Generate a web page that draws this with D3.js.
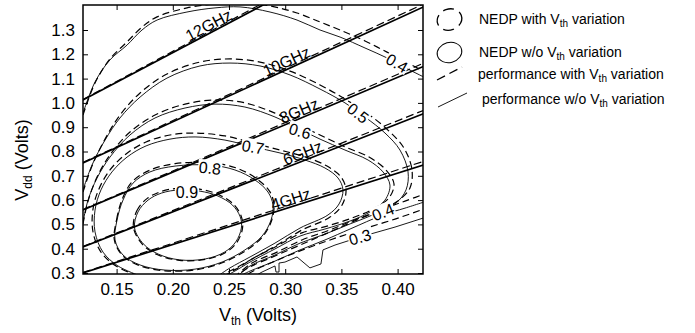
<!DOCTYPE html>
<html><head><meta charset="utf-8">
<script src="https://cdn.jsdelivr.net/npm/d3@7"></script>
<style>body{margin:0;background:#fff;}svg{display:block;}text{font-family:"Liberation Sans",Arial,Helvetica,sans-serif;fill:#000;}</style>
</head><body><svg id="c" width="695" height="333"></svg>
<script>
// ---------- data ----------
const xTicks=[0.15,0.20,0.25,0.30,0.35,0.40];
const yTicks=[0.3,0.4,0.5,0.6,0.7,0.8,0.9,1.0,1.1,1.2,1.3];

const perfNames=["12GHz","10GHz","8GHz","6GHz","4GHz"];
const perfLabelVth=[0.235,0.304,0.315,0.318,0.307];
const perfSolid=[[[0.12,1.012],[0.30,1.451]],[[0.12,0.753],[0.43,1.410]],[[0.12,0.559],[0.43,1.164]],[[0.12,0.407],[0.43,0.968]],[[0.12,0.300],[0.43,0.755]]];
const perfDashed=[[[0.12,1.014],[0.30,1.460]],[[0.12,0.755],[0.43,1.422]],[[0.12,0.561],[0.43,1.177]],[[0.12,0.409],[0.43,0.982]],[[0.12,0.302],[0.43,0.770]]];

// NEDP contours [Vth, Vdd]
const nedp09=[[0.166,0.485],[0.169,0.551],[0.178,0.600],[0.190,0.629],[0.206,0.642],[0.224,0.637],[0.240,0.617],[0.253,0.580],[0.260,0.531],[0.261,0.485],[0.256,0.428],[0.246,0.386],[0.229,0.358],[0.206,0.354],[0.187,0.378],[0.174,0.419]];
const nedp09d=[[0.165,0.487],[0.168,0.556],[0.177,0.606],[0.190,0.636],[0.206,0.649],[0.225,0.644],[0.241,0.622],[0.254,0.583],[0.261,0.532],[0.262,0.484],[0.257,0.426],[0.247,0.384],[0.229,0.356],[0.206,0.352],[0.186,0.376],[0.173,0.418]];
const nedp08=[[0.1486,0.436],[0.1504,0.518],[0.1557,0.600],[0.1646,0.670],[0.1797,0.716],[0.2020,0.740],[0.2331,0.744],[0.2553,0.724],[0.2731,0.683],[0.2847,0.633],[0.2891,0.580],[0.2874,0.518],[0.2794,0.452],[0.2642,0.395],[0.2438,0.345],[0.2198,0.316],[0.1931,0.312],[0.1709,0.333],[0.1557,0.374]];
const nedp08d=[[0.148,0.436],[0.150,0.520],[0.155,0.604],[0.164,0.676],[0.180,0.724],[0.202,0.750],[0.233,0.754],[0.256,0.733],[0.274,0.690],[0.286,0.637],[0.290,0.582],[0.288,0.517],[0.280,0.450],[0.265,0.392],[0.244,0.342],[0.220,0.313],[0.193,0.309],[0.170,0.331],[0.155,0.373]];
const nedp07=[[0.1709,0.288],[0.1512,0.329],[0.1379,0.386],[0.1308,0.469],[0.1308,0.559],[0.1361,0.642],[0.1459,0.716],[0.1593,0.777],[0.1762,0.823],[0.1975,0.851],[0.2198,0.860],[0.2464,0.847],[0.2714,0.819],[0.2954,0.794],[0.3176,0.765],[0.3354,0.732],[0.3470,0.691],[0.3514,0.642],[0.3479,0.584],[0.3381,0.539],[0.3132,0.485],[0.2909,0.423],[0.2687,0.366],[0.2509,0.321],[0.2402,0.288]];
const nedp07d=[[0.1691,0.288],[0.1495,0.329],[0.1361,0.386],[0.1290,0.469],[0.1290,0.563],[0.1343,0.646],[0.1441,0.724],[0.1584,0.790],[0.1762,0.839],[0.1975,0.868],[0.2198,0.876],[0.2464,0.864],[0.2714,0.835],[0.2954,0.806],[0.3185,0.777],[0.3372,0.740],[0.3497,0.695],[0.3541,0.642],[0.3506,0.580],[0.3399,0.530],[0.3149,0.477],[0.2927,0.415],[0.2705,0.358],[0.2527,0.312],[0.2420,0.288]];
const nedp06=[[0.1201,0.510],[0.1246,0.600],[0.1326,0.691],[0.1441,0.777],[0.1619,0.868],[0.1842,0.938],[0.2109,0.979],[0.2375,0.995],[0.2642,0.983],[0.2909,0.942],[0.3105,0.897],[0.3310,0.851],[0.3532,0.806],[0.3737,0.765],[0.3870,0.716],[0.3932,0.662],[0.3888,0.600],[0.3754,0.551],[0.3577,0.514],[0.3354,0.481],[0.3132,0.452],[0.2909,0.399],[0.2687,0.345],[0.2553,0.308],[0.2473,0.288]];
const nedp06d=[[0.1201,0.502],[0.1246,0.596],[0.1326,0.695],[0.1441,0.786],[0.1619,0.880],[0.1842,0.950],[0.2109,0.995],[0.2375,1.012],[0.2642,1.000],[0.2909,0.958],[0.3105,0.913],[0.3310,0.868],[0.3532,0.819],[0.3746,0.777],[0.3897,0.724],[0.3968,0.666],[0.3923,0.609],[0.3781,0.563],[0.3594,0.526],[0.3372,0.493],[0.3149,0.465],[0.2927,0.411],[0.2705,0.358],[0.2562,0.316],[0.2455,0.288]];
const nedp05=[[0.1201,0.642],[0.1281,0.744],[0.1397,0.847],[0.1530,0.938],[0.1709,1.024],[0.1948,1.102],[0.2242,1.152],[0.2509,1.164],[0.2776,1.152],[0.3043,1.115],[0.3310,1.057],[0.3532,1.000],[0.3710,0.942],[0.3888,0.876],[0.4021,0.806],[0.4093,0.716],[0.4075,0.642],[0.3986,0.588],[0.3799,0.543],[0.3577,0.502],[0.3354,0.460],[0.3132,0.423],[0.2909,0.374],[0.2687,0.329],[0.2580,0.288]];
const nedp05d=[[0.1201,0.633],[0.1281,0.740],[0.1397,0.851],[0.1530,0.950],[0.1709,1.041],[0.1948,1.119],[0.2242,1.168],[0.2509,1.181],[0.2776,1.168],[0.3043,1.131],[0.3310,1.074],[0.3532,1.016],[0.3728,0.958],[0.3914,0.888],[0.4057,0.814],[0.4128,0.724],[0.4110,0.650],[0.4013,0.600],[0.3826,0.555],[0.3594,0.514],[0.3372,0.473],[0.3149,0.436],[0.2927,0.386],[0.2705,0.341],[0.2562,0.288]];
const nedp04up=[[0.1201,0.958],[0.1308,1.086],[0.1441,1.177],[0.1593,1.238],[0.1726,1.300],[0.1860,1.341],[0.2126,1.374],[0.2375,1.391],[0.2598,1.395],[0.2865,1.374],[0.3105,1.341],[0.3310,1.300],[0.3488,1.271],[0.3710,1.226],[0.3906,1.185],[0.4110,1.135],[0.4288,1.094]];
const nedp04upd=[[0.1201,0.950],[0.1308,1.082],[0.1441,1.181],[0.1593,1.251],[0.1726,1.312],[0.1860,1.354],[0.2126,1.391],[0.2375,1.407],[0.2598,1.411],[0.2865,1.399],[0.3105,1.370],[0.3310,1.333],[0.3488,1.300],[0.3710,1.255],[0.3906,1.209],[0.4110,1.160],[0.4288,1.115]];
const nedp04lo=[[0.4288,0.600],[0.4066,0.567],[0.3870,0.539],[0.3577,0.481],[0.3354,0.436],[0.3132,0.395],[0.2909,0.349],[0.2687,0.308],[0.2598,0.288]];
const nedp04lod=[[0.4288,0.633],[0.4066,0.596],[0.3870,0.563],[0.3577,0.506],[0.3354,0.460],[0.3132,0.415],[0.2909,0.370],[0.2687,0.325],[0.2562,0.288]];
const nedp03lo=[[0.4288,0.535],[0.3977,0.489],[0.3665,0.448],[0.3443,0.415],[0.3336,0.395],[0.3318,0.337],[0.3220,0.321],[0.3105,0.366],[0.2998,0.345],[0.2945,0.341],[0.2945,0.304],[0.2918,0.304],[0.2909,0.329],[0.2794,0.304],[0.2731,0.288]];
const nedp03lod=[[0.4288,0.572],[0.3977,0.522],[0.3665,0.477],[0.3399,0.436],[0.3132,0.391],[0.2909,0.349],[0.2731,0.312],[0.2642,0.288]];

const contourLabels=[["0.9",0.2126,0.633],["0.8",0.2331,0.732],["0.7",0.2714,0.819],["0.6",0.3132,0.884],["0.5",0.3648,0.958],["0.4",0.3995,1.164],["0.4",0.3870,0.551],["0.3",0.3665,0.448]];
const legendLabels=["NEDP with |variation","NEDP w/o |variation","performance with |variation","performance w/o |variation"];

// ---------- layout ----------
const svg=d3.select("#c");
const L=83,R=423,T=5,B=274;
const x=d3.scaleLinear().domain([0.1201,0.4226]).range([L,R]);
const y=d3.scaleLinear().domain([0.2959,1.4029]).range([B,T]);

svg.append("defs").append("clipPath").attr("id","clip").append("rect").attr("x",L).attr("y",T).attr("width",R-L).attr("height",B-T);
const plot=svg.append("g").attr("clip-path","url(#clip)");

const smooth=d3.line().x(d=>x(d[0])).y(d=>y(d[1])).curve(d3.curveCatmullRom.alpha(0.5));
const closed=d3.line().x(d=>x(d[0])).y(d=>y(d[1])).curve(d3.curveCatmullRomClosed.alpha(0.5));
const straight=d3.line().x(d=>x(d[0])).y(d=>y(d[1]));

function draw(gen,data,dashed){
  plot.append("path").attr("d",gen(data)).attr("fill","none").attr("stroke","#000")
    .attr("stroke-width",dashed?1.2:0.9).attr("stroke-dasharray",dashed?"7,4":null);
}
[[closed,nedp09,nedp09d],[closed,nedp08,nedp08d],[smooth,nedp07,nedp07d],[smooth,nedp06,nedp06d],[smooth,nedp05,nedp05d],[smooth,nedp04up,nedp04upd],[smooth,nedp04lo,nedp04lod]].forEach(([g,s,d])=>{draw(g,s,false);draw(g,d,true);});
draw(straight,nedp03lo,false);draw(smooth,nedp03lod,true);

// performance lines
perfSolid.forEach(p=>plot.append("path").attr("d",straight(p)).attr("fill","none").attr("stroke","#000").attr("stroke-width",1.7));
perfDashed.forEach(p=>plot.append("path").attr("d",straight(p)).attr("fill","none").attr("stroke","#000").attr("stroke-width",1.2).attr("stroke-dasharray","8,4"));

// contour labels
const cAngles=[0,6,10,16,38,30,-22,-16];
contourLabels.forEach((c,i)=>{
  const g=plot.append("g").attr("transform",`translate(${x(c[1])},${y(c[2])}) rotate(${cAngles[i]})`);
  g.append("rect").attr("x",-12).attr("y",-8).attr("width",24).attr("height",15).attr("fill","#fff");
  g.append("text").attr("text-anchor","middle").attr("dy","0.36em").attr("font-size",16).text(c[0]);
});
// performance labels
perfNames.forEach((n,i)=>{
  const p=perfSolid[i];
  const t=perfLabelVth[i];
  const v=p[0][1]+(t-p[0][0])*(p[1][1]-p[0][1])/(p[1][0]-p[0][0]);
  const ang=Math.atan2(y(p[1][1])-y(p[0][1]),x(p[1][0])-x(p[0][0]))*180/Math.PI;
  plot.append("text").attr("transform",`translate(${x(t)},${y(v)}) rotate(${ang})`)
    .attr("text-anchor","middle").attr("dy",-2).attr("font-size",16).text(n);
});

// axes
const fx=d3.format(".2f"),fy=d3.format(".1f");
const ax=svg.append("g").attr("transform",`translate(0,${B})`).call(d3.axisBottom(x).tickValues(xTicks).tickFormat(fx).tickSizeInner(-5).tickSizeOuter(0).tickPadding(9));
const ay=svg.append("g").attr("transform",`translate(${L},0)`).call(d3.axisLeft(y).tickValues(yTicks).tickFormat(fy).tickSizeInner(-5).tickSizeOuter(0).tickPadding(8));
const at=svg.append("g").attr("transform",`translate(0,${T})`).call(d3.axisTop(x).tickValues(xTicks).tickFormat("").tickSizeInner(-5).tickSizeOuter(0));
const ar=svg.append("g").attr("transform",`translate(${R},0)`).call(d3.axisRight(y).tickValues(yTicks).tickFormat("").tickSizeInner(-5).tickSizeOuter(0));
[ax,ay,at,ar].forEach(a=>{a.select(".domain").remove();a.selectAll("line").attr("stroke","#000");a.selectAll("text").attr("font-size",17).attr("font-family","Liberation Sans, Arial, sans-serif").attr("fill","#000");});
svg.append("rect").attr("x",L).attr("y",T).attr("width",R-L).attr("height",B-T).attr("fill","none").attr("stroke","#000").attr("stroke-width",1.5);

// axis titles
const xt=svg.append("text").attr("x",258).attr("y",321).attr("text-anchor","middle").attr("font-size",18);
xt.append("tspan").text("V");xt.append("tspan").attr("font-size",12).attr("dy",4).text("th");xt.append("tspan").attr("dy",-4).text(" (Volts)");
const yt=svg.append("text").attr("transform","translate(28,160) rotate(-90)").attr("text-anchor","middle").attr("font-size",18);
yt.append("tspan").text("V");yt.append("tspan").attr("font-size",12).attr("dy",4).text("dd");yt.append("tspan").attr("dy",-4).text(" (Volts)");

// legend
const lg=svg.append("g");
lg.append("ellipse").attr("transform","translate(449.5,19.5) rotate(-20)").attr("rx",12.5).attr("ry",10.5).attr("fill","none").attr("stroke","#000").attr("stroke-width",1.3).attr("stroke-dasharray","11,6");
lg.append("ellipse").attr("transform","translate(449.5,52.5) rotate(-15)").attr("rx",12.5).attr("ry",10).attr("fill","none").attr("stroke","#000").attr("stroke-width",1);
lg.append("line").attr("x1",437).attr("y1",80).attr("x2",462).attr("y2",67).attr("stroke","#000").attr("stroke-width",1.3).attr("stroke-dasharray","9,5");
lg.append("line").attr("x1",438).attr("y1",107).attr("x2",467).attr("y2",93).attr("stroke","#000").attr("stroke-width",0.9);
const lx=[479,479,478,482],ly=[24,57,79,104];
legendLabels.forEach((s,i)=>{
  const parts=s.split("|");
  const t=lg.append("text").attr("x",lx[i]).attr("y",ly[i]).attr("font-size",14);
  t.append("tspan").text(parts[0]+"V");
  t.append("tspan").attr("font-size",10).attr("dy",3).text("th");
  t.append("tspan").attr("dy",-3).text(" "+parts[1]);
});
</script></body></html>
